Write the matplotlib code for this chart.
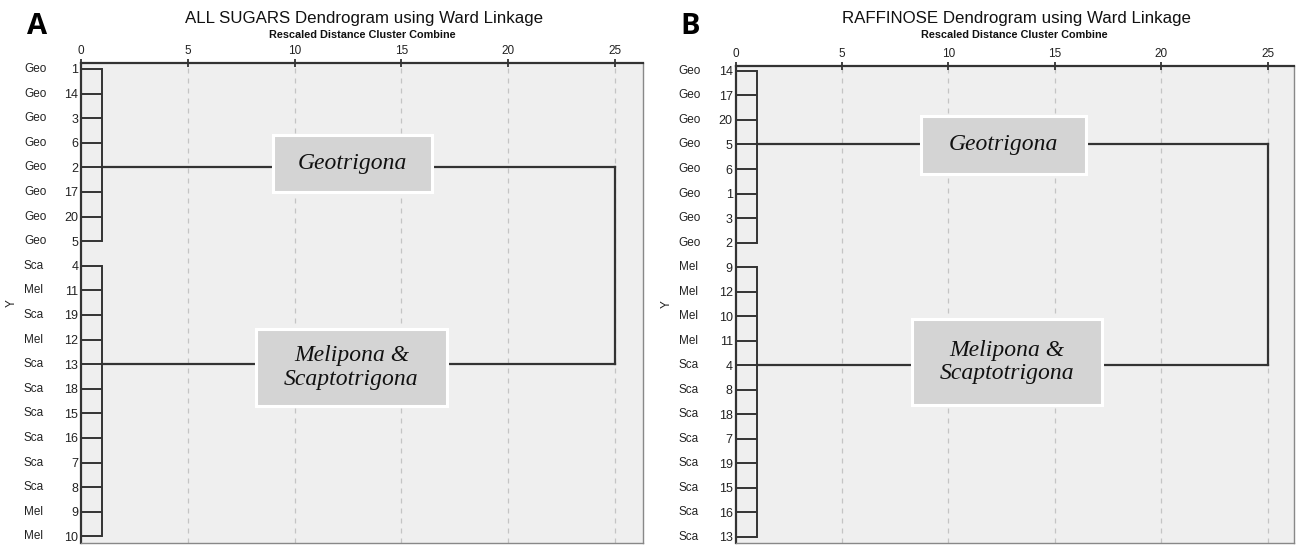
import matplotlib
matplotlib.use("Agg")
import matplotlib.pyplot as plt
from matplotlib.patches import Rectangle
from matplotlib.transforms import blended_transform_factory, offset_copy

# ---- data -------------------------------------------------------------
a_ids = [1, 14, 3, 6, 2, 17, 20, 5, 4, 11, 19, 12, 13, 18, 15, 16, 7, 8, 9, 10]
a_groups = ["Geo"] * 8 + ["Sca", "Mel", "Sca", "Mel", "Sca", "Sca", "Sca",
                          "Sca", "Sca", "Sca", "Mel", "Mel"]
a_cluster_sizes = [8, 12]
a_join_rows = [4, 12]

b_ids = [14, 17, 20, 5, 6, 1, 3, 2, 9, 12, 10, 11, 4, 8, 18, 7, 19, 15, 16, 13]
b_groups = ["Geo"] * 8 + ["Mel"] * 4 + ["Sca"] * 8
b_cluster_sizes = [8, 12]
b_join_rows = [3, 12]

leaf_merge_dist = 1.0
final_merge_dist = 25.0
x_ticks = [0, 5, 10, 15, 20, 25]
cluster_names = ["Geotrigona", "Melipona &\nScaptotrigona"]

LINE = "#333333"
BG = "#efefef"
SANS = "Liberation Sans"

fig = plt.figure(figsize=(12.96, 5.45), dpi=100)


def draw_panel(rect, ylim, xmax, ids, groups, sizes, join_rows, title,
               letter, letter_xy, boxes):
    ax = fig.add_axes(rect)
    ax.set_facecolor(BG)
    n = len(ids)
    rows = list(range(n))
    ax.set_xlim(0, xmax)
    ax.set_ylim(*ylim)

    # leaves joining into their clusters
    start = 0
    for size in sizes:
        for r in range(start, start + size):
            ax.plot([0, leaf_merge_dist], [r, r], color=LINE, lw=1.4,
                    solid_capstyle="butt", zorder=3)
        ax.plot([leaf_merge_dist, leaf_merge_dist], [start, start + size - 1],
                color=LINE, lw=1.4, zorder=3)
        start += size

    # the two clusters joining at the top level
    for jr in join_rows:
        ax.plot([leaf_merge_dist, final_merge_dist], [jr, jr], color=LINE,
                lw=1.6, zorder=2)
    ax.plot([final_merge_dist, final_merge_dist], join_rows, color=LINE,
            lw=1.6, zorder=2)

    # dashed reference lines
    for t in x_ticks[1:]:
        ax.axvline(t, color="#c4c4c4", lw=0.9, ls=(0, (4, 4)), zorder=1)

    # cluster name boxes
    for (x0, x1, y0, y1), name in zip(boxes, cluster_names):
        ax.add_patch(Rectangle((x0, y0), x1 - x0, y1 - y0, facecolor="#d4d4d4",
                               edgecolor="white", lw=2.2, zorder=4))
        ax.text((x0 + x1) / 2, (y0 + y1) / 2, name, ha="center", va="center",
                fontsize=17, family="Liberation Serif", style="italic",
                linespacing=1.15, color="#111111", zorder=5)

    # axes styling
    ax.xaxis.tick_top()
    ax.set_xticks(x_ticks)
    ax.set_xticklabels([str(t) for t in x_ticks], fontsize=8.5,
                       family=SANS, color="#222222")
    ax.tick_params(axis="x", length=6, width=1.3, color=LINE, pad=1,
                   direction="inout")
    ax.set_yticks(rows)
    ax.set_yticklabels([str(i) for i in ids], fontsize=9, family=SANS,
                       color="#222222")
    ax.tick_params(axis="y", length=0, pad=2)
    for side, sp in ax.spines.items():
        sp.set_color(LINE if side in ("top", "left") else "#888888")
        sp.set_linewidth(1.6 if side in ("top", "left") else 1.0)

    # group codes next to the case numbers
    trans = offset_copy(blended_transform_factory(ax.transAxes, ax.transData),
                        fig=fig, x=-57, y=0, units="dots")
    for r, g in zip(rows, groups):
        ax.text(0, r, g, transform=trans, ha="left", va="center",
                fontsize=8.5, family=SANS, color="#222222")
    ax.text(0, 0.5, "Y", transform=offset_copy(ax.transAxes, fig=fig, x=-69,
                                                y=0, units="dots"),
            rotation=90, ha="center", va="center", fontsize=8.5, family=SANS,
            color="#222222")

    # titles
    cx = rect[0] + rect[2] * 0.5
    fig.text(cx + 2 / 1296, 1 - 18 / 545, title, ha="center", va="center",
             fontsize=12.2, family=SANS, color="#111111")
    fig.text(cx, 1 - 35 / 545, "Rescaled Distance Cluster Combine",
             ha="center", va="center", fontsize=7.8, weight="bold",
             family=SANS, color="#111111")
    fig.text(letter_xy[0] / 1296, 1 - letter_xy[1] / 545, letter, ha="center",
             va="center", fontsize=21, weight="bold", family="Open Sans")
    return ax


draw_panel([81 / 1296, 2 / 545, 562 / 1296, 480 / 545], (19.27, -0.24), 26.31,
           a_ids, a_groups, a_cluster_sizes, a_join_rows,
           "ALL SUGARS Dendrogram using Ward Linkage", "A", (37, 26),
           [(9.0, 16.43, 2.68, 5.0), (8.19, 17.13, 10.57, 13.7)])

draw_panel([735.5 / 1296, 2 / 545, 558 / 1296, 477 / 545], (19.25, -0.2), 26.2,
           b_ids, b_groups, b_cluster_sizes, b_join_rows,
           "RAFFINOSE Dendrogram using Ward Linkage", "B", (690, 26),
           [(8.71, 16.46, 1.82, 4.21), (8.29, 17.2, 10.13, 13.61)])

fig.savefig("out.png", dpi=100, facecolor="white")
